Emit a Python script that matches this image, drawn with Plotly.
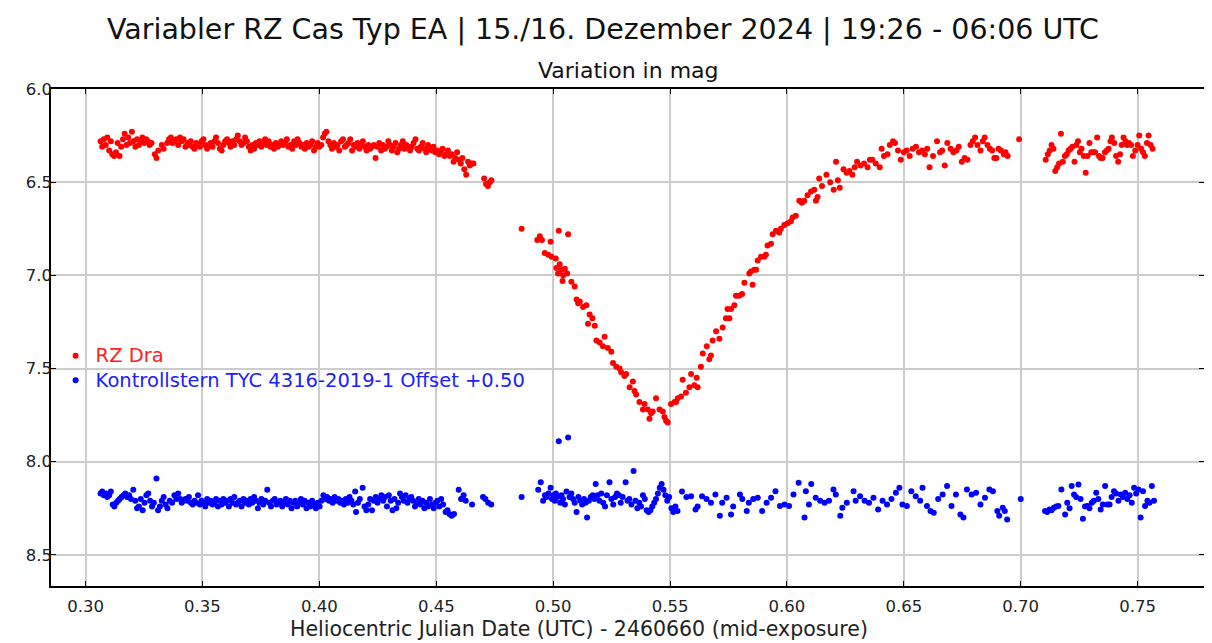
import plotly.graph_objects as go

# ---------------- data ----------------
red_t = [
    0.3064, 0.3071, 0.3078, 0.3086, 0.3093, 0.3101, 0.3108, 0.3114, 0.3122, 0.3130,
    0.3137, 0.3145, 0.3152, 0.3160, 0.3167, 0.3175, 0.3182, 0.3190, 0.3198, 0.3205,
    0.3213, 0.3220, 0.3228, 0.3236, 0.3243, 0.3251, 0.3259, 0.3266, 0.3274, 0.3282,
    0.3296, 0.3303, 0.3311, 0.3326, 0.3334, 0.3349, 0.3357, 0.3365, 0.3372, 0.3380,
    0.3388, 0.3396, 0.3404, 0.3411, 0.3419, 0.3427, 0.3435, 0.3442, 0.3450, 0.3458,
    0.3466, 0.3473, 0.3481, 0.3489, 0.3496, 0.3504, 0.3512, 0.3520, 0.3527, 0.3535,
    0.3543, 0.3551, 0.3558, 0.3566, 0.3574, 0.3582, 0.3589, 0.3597, 0.3605, 0.3613,
    0.3620, 0.3628, 0.3636, 0.3644, 0.3651, 0.3659, 0.3667, 0.3675, 0.3682, 0.3690,
    0.3698, 0.3706, 0.3713, 0.3721, 0.3729, 0.3737, 0.3744, 0.3752, 0.3760, 0.3768,
    0.3775, 0.3783, 0.3791, 0.3799, 0.3806, 0.3814, 0.3822, 0.3830, 0.3837, 0.3845,
    0.3853, 0.3861, 0.3868, 0.3876, 0.3884, 0.3892, 0.3899, 0.3907, 0.3915, 0.3923,
    0.3930, 0.3938, 0.3946, 0.3954, 0.3961, 0.3969, 0.3977, 0.3985, 0.3992, 0.4000,
    0.4008, 0.4016, 0.4023, 0.4030, 0.4039, 0.4047, 0.4054, 0.4062, 0.4070, 0.4078,
    0.4085, 0.4093, 0.4101, 0.4109, 0.4116, 0.4124, 0.4132, 0.4140, 0.4147, 0.4155,
    0.4163, 0.4171, 0.4178, 0.4186, 0.4194, 0.4202, 0.4209, 0.4217, 0.4225, 0.4233,
    0.4240, 0.4248, 0.4256, 0.4264, 0.4271, 0.4279, 0.4287, 0.4295, 0.4302, 0.4310,
    0.4318, 0.4326, 0.4333, 0.4341, 0.4349, 0.4357, 0.4364, 0.4372, 0.4380, 0.4388,
    0.4395, 0.4403, 0.4411, 0.4419, 0.4426, 0.4434, 0.4442, 0.4450, 0.4457, 0.4465,
    0.4473, 0.4481, 0.4488, 0.4496, 0.4504, 0.4512, 0.4519, 0.4527, 0.4535, 0.4543,
    0.4550, 0.4558, 0.4566, 0.4574, 0.4581, 0.4589, 0.4597, 0.4605, 0.4612, 0.4620,
    0.4628, 0.4636, 0.4643, 0.4651, 0.4659, 0.4705, 0.4713, 0.4721, 0.4729, 0.4736,
    # descent
    0.4865, 0.4932, 0.4943, 0.4952, 0.4964, 0.4979, 0.4989, 0.4993, 0.5011, 0.5014,
    0.5021, 0.5024, 0.5028, 0.5036, 0.5040, 0.5043, 0.5050, 0.5060, 0.5064, 0.5078,
    0.5092, 0.5100, 0.5107, 0.5114, 0.5128, 0.5142, 0.5149, 0.5156, 0.5168, 0.5178,
    0.5185, 0.5199, 0.5213, 0.5220, 0.5234, 0.5249, 0.5256, 0.5270, 0.5284, 0.5291,
    0.5305, 0.5312, 0.5327, 0.5341, 0.5348, 0.5355, 0.5369, 0.5384, 0.5391, 0.5405,
    0.5412, 0.5419, 0.5426, 0.5440, 0.5455, 0.5469, 0.5476, 0.5483, 0.5490,
    # ascent
    0.5504, 0.5519, 0.5526, 0.5533, 0.5547, 0.5554, 0.5568, 0.5583, 0.5590, 0.5604,
    0.5614, 0.5618, 0.5632, 0.5640, 0.5657, 0.5668, 0.5675, 0.5682, 0.5697, 0.5711,
    0.5725, 0.5739, 0.5746, 0.5754, 0.5761, 0.5775, 0.5782, 0.5796, 0.5808, 0.5818,
    0.5839, 0.5846, 0.5853, 0.5860, 0.5868, 0.5875, 0.5889, 0.5903, 0.5910, 0.5917,
    0.5932, 0.5939, 0.5953, 0.5967, 0.5974, 0.5989, 0.6003, 0.6017, 0.6024, 0.6038,
    0.6053, 0.6064, 0.6074, 0.6088, 0.6103, 0.6117, 0.6124, 0.6131, 0.6138, 0.6150,
    0.6169, 0.6185, 0.6200, 0.6210, 0.6218, 0.6226, 0.6242, 0.6255, 0.6267, 0.6280,
    0.6290, 0.6300, 0.6315, 0.6330, 0.6345, 0.6355, 0.6365, 0.6380, 0.6397,
    # plateau
    0.6405, 0.6415, 0.6430, 0.6440, 0.6454, 0.6462, 0.6475, 0.6487, 0.6500, 0.6512,
    0.6525, 0.6538, 0.6552, 0.6565, 0.6578, 0.6590, 0.6600, 0.6610, 0.6625, 0.6642,
    0.6655, 0.6664, 0.6675, 0.6686, 0.6700, 0.6712, 0.6725, 0.6735, 0.6748, 0.6760,
    0.6772, 0.6785, 0.6795, 0.6805, 0.6815, 0.6828, 0.6838, 0.6846, 0.6858, 0.6868,
    0.6878, 0.6887, 0.6896, 0.6905, 0.6915, 0.6928, 0.6935, 0.6944, 0.6993,
    0.7107, 0.7116, 0.7124, 0.7132, 0.7140, 0.7148, 0.7156, 0.7164, 0.7172, 0.7180,
    0.7189, 0.7197, 0.7205, 0.7213, 0.7221, 0.7230, 0.7238, 0.7245, 0.7253, 0.7260,
    0.7270, 0.7278, 0.7286, 0.7294, 0.7302, 0.7310, 0.7318, 0.7327, 0.7335, 0.7342,
    0.7350, 0.7360, 0.7368, 0.7376, 0.7384, 0.7390, 0.7400, 0.7408, 0.7417, 0.7425,
    0.7432, 0.7440, 0.7448, 0.7455, 0.7463, 0.7472, 0.7480, 0.7490, 0.7500, 0.7507,
    0.7515, 0.7523, 0.7531, 0.7540, 0.7547, 0.7556, 0.7564,
]
red_mag = [
    6.28, 6.31, 6.27, 6.30, 6.26, 6.33, 6.28, 6.35, 6.36, 6.34,
    6.29, 6.36, 6.31, 6.27, 6.24, 6.30, 6.26, 6.29, 6.23, 6.28,
    6.31, 6.27, 6.30, 6.28, 6.26, 6.29, 6.27, 6.28, 6.30, 6.29,
    6.35, 6.37, 6.33, 6.30, 6.32, 6.29, 6.27, 6.26, 6.29, 6.28,
    6.27, 6.30, 6.26, 6.28, 6.27, 6.31, 6.29, 6.30, 6.28, 6.31,
    6.32, 6.29, 6.30, 6.31, 6.28, 6.27, 6.30, 6.32, 6.30, 6.29,
    6.31, 6.28, 6.26, 6.29, 6.32, 6.33, 6.30, 6.28, 6.27, 6.29,
    6.31, 6.28, 6.30, 6.27, 6.25, 6.28, 6.30, 6.29, 6.26, 6.28,
    6.31, 6.33, 6.30, 6.32, 6.29, 6.30, 6.28, 6.31, 6.29, 6.27,
    6.30, 6.28, 6.31, 6.30, 6.32, 6.29, 6.31, 6.30, 6.28, 6.30,
    6.29, 6.27, 6.31, 6.30, 6.32, 6.28, 6.30, 6.27, 6.29, 6.31,
    6.30, 6.32, 6.29, 6.31, 6.30, 6.28, 6.33, 6.31, 6.29, 6.31,
    6.30, 6.26, 6.24, 6.23, 6.28, 6.30, 6.32, 6.29, 6.31, 6.30,
    6.33, 6.28, 6.27, 6.31, 6.30, 6.29, 6.27, 6.33, 6.30, 6.31,
    6.29, 6.32, 6.30, 6.28, 6.31, 6.33, 6.30, 6.32, 6.31, 6.30,
    6.37, 6.31, 6.29, 6.33, 6.30, 6.32, 6.31, 6.28, 6.30, 6.33,
    6.31, 6.29, 6.34, 6.32, 6.30, 6.28, 6.32, 6.30, 6.31, 6.33,
    6.31, 6.29, 6.27, 6.32, 6.33, 6.31, 6.29, 6.32, 6.34, 6.30,
    6.32, 6.33, 6.31, 6.34, 6.33, 6.35, 6.34, 6.32, 6.36, 6.35,
    6.33, 6.36, 6.35, 6.39, 6.37, 6.34, 6.38, 6.40, 6.37, 6.43,
    6.46, 6.39, 6.41, 6.40, 6.40, 6.48, 6.51, 6.52, 6.50, 6.49,
    # descent
    6.75, 6.81, 6.79, 6.81, 6.88, 6.89, 6.82, 6.90, 6.91, 6.96,
    6.99, 6.76, 6.94, 6.97, 7.03, 7.00, 6.965, 6.99, 6.78, 7.035,
    7.06, 7.13, 7.15, 7.14, 7.17, 7.16, 7.26, 7.21, 7.23, 7.27,
    7.35, 7.36, 7.38, 7.33, 7.39, 7.41, 7.47, 7.49, 7.50, 7.52,
    7.54, 7.53, 7.60, 7.57, 7.62, 7.64, 7.68, 7.72, 7.69, 7.72,
    7.77, 7.74, 7.73, 7.66, 7.72, 7.73, 7.76, 7.78, 7.79,
    # ascent
    7.69, 7.68, 7.68, 7.66, 7.65, 7.56, 7.63, 7.60, 7.53, 7.59,
    7.55, 7.60, 7.49, 7.42, 7.38, 7.45, 7.43, 7.35, 7.30, 7.34,
    7.28, 7.23, 7.18, 7.23, 7.18, 7.16, 7.11, 7.11, 7.10, 7.04,
    6.99, 6.98, 7.05, 6.97, 6.97, 6.92, 6.90, 6.90, 6.89, 6.84,
    6.83, 6.78, 6.76, 6.77, 6.75, 6.73, 6.72, 6.71, 6.69, 6.68,
    6.60, 6.61, 6.60, 6.57, 6.55, 6.54, 6.60, 6.58, 6.48, 6.52,
    6.46, 6.50, 6.54, 6.39, 6.49, 6.53, 6.43, 6.45, 6.44, 6.46,
    6.42, 6.39, 6.41, 6.40, 6.42, 6.38, 6.38, 6.40, 6.42,
    # plateau
    6.32, 6.36, 6.35, 6.30, 6.28, 6.29, 6.33, 6.38, 6.34, 6.33,
    6.36, 6.32, 6.31, 6.34, 6.33, 6.35, 6.32, 6.42, 6.36, 6.28,
    6.34, 6.33, 6.41, 6.29, 6.32, 6.34, 6.33, 6.31, 6.39, 6.37,
    6.38, 6.30, 6.28, 6.26, 6.30, 6.33, 6.28, 6.26, 6.30, 6.32,
    6.33, 6.37, 6.37, 6.32, 6.33, 6.35, 6.34, 6.36, 6.27,
    6.38, 6.35, 6.33, 6.30, 6.32, 6.44, 6.42, 6.40, 6.24, 6.39,
    6.36, 6.35, 6.33, 6.32, 6.31, 6.39, 6.30, 6.28, 6.34, 6.32,
    6.36, 6.45, 6.36, 6.29, 6.34, 6.34, 6.34, 6.26, 6.36, 6.37,
    6.37, 6.34, 6.33, 6.32, 6.28, 6.26, 6.29, 6.36, 6.39, 6.35,
    6.30, 6.26, 6.28, 6.30, 6.29, 6.30, 6.36, 6.33, 6.30, 6.25,
    6.32, 6.34, 6.36, 6.29, 6.25, 6.30, 6.32,
]

blue_t = [
    0.3064, 0.3071, 0.3078, 0.3086, 0.3093, 0.3101, 0.3108, 0.3116, 0.3123, 0.3131,
    0.3139, 0.3146, 0.3154, 0.3162, 0.3170, 0.3178, 0.3186, 0.3194, 0.3204, 0.3212,
    0.3220, 0.3228, 0.3236, 0.3244, 0.3252, 0.3260, 0.3268, 0.3276, 0.3284, 0.3292,
    0.3303, 0.3310, 0.3318, 0.3326, 0.3334, 0.3342, 0.3350, 0.3360, 0.3370, 0.3380,
    0.3388, 0.3396, 0.3404, 0.3411, 0.3419, 0.3427, 0.3435, 0.3442, 0.3450, 0.3458,
    0.3466, 0.3473, 0.3481, 0.3489, 0.3496, 0.3504, 0.3512, 0.3520, 0.3527, 0.3535,
    0.3543, 0.3551, 0.3558, 0.3566, 0.3574, 0.3582, 0.3589, 0.3597, 0.3605, 0.3613,
    0.3620, 0.3628, 0.3636, 0.3644, 0.3651, 0.3659, 0.3667, 0.3675, 0.3682, 0.3690,
    0.3698, 0.3706, 0.3713, 0.3721, 0.3729, 0.3737, 0.3744, 0.3752, 0.3760, 0.3768,
    0.3777, 0.3785, 0.3793, 0.3801, 0.3809, 0.3817, 0.3825, 0.3833, 0.3841, 0.3849,
    0.3857, 0.3865, 0.3873, 0.3881, 0.3889, 0.3897, 0.3905, 0.3913, 0.3921, 0.3929,
    0.3937, 0.3945, 0.3953, 0.3961, 0.3969, 0.3977, 0.3985, 0.3993, 0.4001, 0.4009,
    0.4017, 0.4025, 0.4033, 0.4041, 0.4049, 0.4057, 0.4065, 0.4073, 0.4081, 0.4089,
    0.4097, 0.4105, 0.4113, 0.4121, 0.4129, 0.4137, 0.4145, 0.4153, 0.4157, 0.4165,
    0.4173, 0.4185, 0.4193, 0.4201, 0.4209, 0.4217, 0.4225, 0.4233, 0.4241, 0.4249,
    0.4257, 0.4265, 0.4273, 0.4281, 0.4289, 0.4297, 0.4305, 0.4313, 0.4321, 0.4329,
    0.4337, 0.4345, 0.4353, 0.4361, 0.4369, 0.4377, 0.4385, 0.4393, 0.4401, 0.4409,
    0.4417, 0.4425, 0.4433, 0.4441, 0.4449, 0.4457, 0.4465, 0.4473, 0.4481, 0.4489,
    0.4497, 0.4505, 0.4513, 0.4521, 0.4529, 0.4540, 0.4548, 0.4556, 0.4566, 0.4576,
    0.4596, 0.4606, 0.4617, 0.4626, 0.4653, 0.4700, 0.4710, 0.4722, 0.4735,
    # eclipse part
    0.4865, 0.4936, 0.4947, 0.4957, 0.4965, 0.4972, 0.4980, 0.4989, 0.4995, 0.5001,
    0.5007, 0.5012, 0.5018, 0.5024, 0.5030, 0.5036, 0.5042, 0.5050, 0.5057, 0.5064,
    0.5070, 0.5078, 0.5085, 0.5092, 0.5100, 0.5108, 0.5116, 0.5124, 0.5132, 0.5139,
    0.5145, 0.5153, 0.5161, 0.5169, 0.5176, 0.5182, 0.5190, 0.5198, 0.5206, 0.5214,
    0.5222, 0.5230, 0.5241, 0.5249, 0.5257, 0.5265, 0.5273, 0.5281, 0.5289, 0.5297,
    0.5310, 0.5318, 0.5326, 0.5335, 0.5344, 0.5352, 0.5360, 0.5368, 0.5376, 0.5384,
    0.5392, 0.5400, 0.5408, 0.5416, 0.5424, 0.5432, 0.5440, 0.5448, 0.5456, 0.5464,
    0.5472, 0.5480, 0.5488, 0.5496, 0.5506, 0.5514, 0.5523, 0.5532, 0.5551, 0.5570,
    0.5590, 0.5609, 0.5618, 0.5637, 0.5656, 0.5675, 0.5694, 0.5713, 0.5723, 0.5742,
    0.5761, 0.5770, 0.5799, 0.5809, 0.5828, 0.5837, 0.5856, 0.5875, 0.5894, 0.5913,
    0.5932, 0.5951, 0.5970, 0.5990, 0.6009, 0.6028, 0.6050, 0.6075, 0.6081, 0.6094,
    0.6104, 0.6123, 0.6142, 0.6161, 0.6180, 0.6199, 0.6209, 0.6228, 0.6237, 0.6256,
    0.6285, 0.6294, 0.6313, 0.6332, 0.6351, 0.6370, 0.6390, 0.6409, 0.6428, 0.6447,
    0.6466, 0.6481, 0.6494, 0.6513, 0.6532, 0.6551, 0.6570, 0.6580, 0.6599, 0.6614,
    0.6628, 0.6647, 0.6666, 0.6685, 0.6704, 0.6723, 0.6742, 0.6755, 0.6770, 0.6790,
    0.6809, 0.6828, 0.6847, 0.6866, 0.6881, 0.6900, 0.6908, 0.6923, 0.6932, 0.6942,
    0.7000,
    0.7104, 0.7113, 0.7123, 0.7132, 0.7142, 0.7152, 0.7161, 0.7174, 0.7190, 0.7199,
    0.7209, 0.7218, 0.7228, 0.7237, 0.7247, 0.7256, 0.7266, 0.7275, 0.7285, 0.7294,
    0.7304, 0.7313, 0.7323, 0.7332, 0.7342, 0.7351, 0.7361, 0.7370, 0.7380, 0.7389,
    0.7399, 0.7408, 0.7418, 0.7428, 0.7437, 0.7447, 0.7456, 0.7466, 0.7475, 0.7485,
    0.7494, 0.7504, 0.7513, 0.7523, 0.7532, 0.7542, 0.7551, 0.7561, 0.7570,
]
blue_mag = [
    8.17, 8.16, 8.18, 8.17, 8.19, 8.18, 8.16, 8.23, 8.24, 8.22,
    8.21, 8.20, 8.19, 8.18, 8.17, 8.19, 8.18, 8.20, 8.15, 8.21,
    8.25, 8.24, 8.20, 8.26, 8.22, 8.18, 8.17, 8.21, 8.24, 8.22,
    8.09, 8.26, 8.24, 8.21, 8.19, 8.23, 8.25, 8.21, 8.22, 8.18,
    8.20, 8.17, 8.20, 8.22, 8.21, 8.20, 8.21, 8.19, 8.22, 8.23,
    8.21, 8.22, 8.18, 8.23, 8.21, 8.22, 8.24, 8.20, 8.22, 8.21,
    8.23, 8.22, 8.20, 8.24, 8.21, 8.23, 8.20, 8.22, 8.21, 8.24,
    8.20, 8.22, 8.19, 8.23, 8.22, 8.21, 8.24, 8.20, 8.22, 8.21,
    8.23, 8.20, 8.22, 8.19, 8.21, 8.25, 8.22, 8.20, 8.23, 8.21,
    8.15, 8.22, 8.24, 8.21, 8.20, 8.23, 8.22, 8.21, 8.24, 8.22,
    8.20, 8.23, 8.21, 8.25, 8.22, 8.21, 8.24, 8.22, 8.20, 8.23,
    8.21, 8.25, 8.22, 8.24, 8.21, 8.23, 8.25, 8.22, 8.24, 8.21,
    8.18, 8.20, 8.19, 8.21, 8.20, 8.22, 8.19, 8.21, 8.20, 8.22,
    8.21, 8.23, 8.20, 8.22, 8.19, 8.21, 8.23, 8.16, 8.27, 8.22,
    8.20, 8.14, 8.24, 8.26, 8.23, 8.20, 8.26, 8.21, 8.19, 8.22,
    8.20, 8.18, 8.21, 8.19, 8.24, 8.18, 8.21, 8.26, 8.20, 8.25,
    8.22, 8.17, 8.19, 8.21, 8.18, 8.22, 8.20, 8.19, 8.21, 8.24,
    8.22, 8.20, 8.23, 8.21, 8.25, 8.22, 8.24, 8.20, 8.23, 8.25,
    8.22, 8.21, 8.24, 8.20, 8.23, 8.27, 8.26, 8.28, 8.29, 8.28,
    8.15, 8.20, 8.18, 8.21, 8.23, 8.19, 8.20, 8.22, 8.23,
    # eclipse part
    8.19, 8.15, 8.11, 8.21, 8.18, 8.19, 8.17, 8.14, 8.20, 8.18,
    8.21, 8.17, 8.19, 7.89, 8.22, 8.18, 8.20, 8.23, 8.16, 7.87,
    8.19, 8.17, 8.20, 8.22, 8.27, 8.19, 8.21, 8.23, 8.20, 8.22,
    8.30, 8.21, 8.19, 8.18, 8.20, 8.12, 8.18, 8.21, 8.17, 8.22,
    8.24, 8.18, 8.11, 8.20, 8.23, 8.19, 8.17, 8.18, 8.22, 8.19,
    8.11, 8.21, 8.20, 8.23, 8.05, 8.21, 8.25, 8.22, 8.24, 8.18,
    8.20, 8.26, 8.27, 8.26, 8.24, 8.22, 8.20, 8.17, 8.14, 8.12,
    8.15, 8.18, 8.21, 8.19, 8.25, 8.27, 8.24, 8.265, 8.16, 8.19,
    8.185, 8.256, 8.24, 8.185, 8.20, 8.22, 8.176, 8.29, 8.22, 8.194,
    8.283, 8.24, 8.176, 8.20, 8.265, 8.22, 8.20, 8.194, 8.265, 8.22,
    8.194, 8.158, 8.238, 8.23, 8.238, 8.176, 8.113, 8.30, 8.158, 8.23,
    8.12, 8.194, 8.21, 8.22, 8.21, 8.149, 8.176, 8.29, 8.247, 8.22,
    8.158, 8.21, 8.185, 8.21, 8.22, 8.194, 8.256, 8.21, 8.23, 8.20,
    8.167, 8.14, 8.23, 8.238, 8.158, 8.185, 8.21, 8.14, 8.238, 8.265,
    8.274, 8.20, 8.176, 8.131, 8.238, 8.176, 8.283, 8.30, 8.149, 8.176,
    8.167, 8.23, 8.194, 8.149, 8.158, 8.265, 8.29, 8.247, 8.265, 8.31,
    8.20,
    8.265, 8.27, 8.256, 8.26, 8.247, 8.24, 8.238, 8.149, 8.283, 8.22,
    8.25, 8.131, 8.176, 8.19, 8.122, 8.20, 8.306, 8.24, 8.238, 8.25,
    8.22, 8.21, 8.167, 8.20, 8.256, 8.23, 8.131, 8.23, 8.23, 8.19,
    8.158, 8.17, 8.21, 8.176, 8.19, 8.167, 8.20, 8.18, 8.22, 8.14,
    8.17, 8.149, 8.30, 8.158, 8.238, 8.21, 8.22, 8.131, 8.21,
]

red_name = "RZ Dra"
blue_name = "Kontrollstern TYC 4316-2019-1 Offset +0.50"
title_text = "Variabler RZ Cas Typ EA | 15./16. Dezember 2024 | 19:26 - 06:06 UTC"
subtitle_text = "Variation in mag"
x_title = "Heliocentric Julian Date (UTC) - 2460660 (mid-exposure)"
x_ticks = [0.30, 0.35, 0.40, 0.45, 0.50, 0.55, 0.60, 0.65, 0.70, 0.75]
y_ticks = [6.0, 6.5, 7.0, 7.5, 8.0, 8.5]

FONT = "DejaVu Sans, sans-serif"
OFF = 7                      # page offset of the figure in the browser
W, H = 1212 - OFF, 643 - OFF
L, T = 50 - OFF, 88 - OFF
R = W - (1203 - OFF)
B = H - (585 - OFF)
PLOT_H = H - T - B
PLOT_W = W - L - R

fig = go.Figure()
fig.add_trace(go.Scatter(
    x=red_t, y=red_mag, mode="markers",
    name="<span style='color:#ff2020;font-size:19.5px'>" + red_name + "</span>",
    marker=dict(color="#ff0000", size=6, line=dict(width=0)),
))
fig.add_trace(go.Scatter(
    x=blue_t, y=blue_mag, mode="markers",
    name="<span style='color:#2020ff;font-size:19.5px'>" + blue_name + "</span>",
    marker=dict(color="#0000ff", size=6, line=dict(width=0)),
))

axis_common = dict(
    showgrid=True, gridcolor="#cccccc", gridwidth=1.5,
    showline=True, linecolor="black", linewidth=1.5, mirror="ticks",
    ticks="inside", ticklen=5, tickcolor="black", tickwidth=1.2,
    zeroline=False, automargin=False,
    tickfont=dict(family=FONT, size=16.5, color="#222222"),
)

fig.update_layout(
    width=W, height=H,
    margin=dict(l=L, r=R, t=T, b=B, autoexpand=False),
    paper_bgcolor="white", plot_bgcolor="white",
    showlegend=True,
    legend=dict(
        x=0.004, y=(585 - 367) / PLOT_H, xanchor="left", yanchor="middle",
        bgcolor="rgba(0,0,0,0)", font=dict(family=FONT, size=16.5),
        itemsizing="trace",
    ),
    annotations=[
        dict(text=title_text, xref="paper", yref="paper",
             x=(602 - 50) / PLOT_W, y=1 + (88 - 28) / PLOT_H,
             xanchor="center", yanchor="middle",
             showarrow=False, font=dict(family=FONT, size=28.5, color="#111111")),
        dict(text=subtitle_text, xref="paper", yref="paper",
             x=(627 - 50) / PLOT_W, y=1 + (88 - 70) / PLOT_H,
             xanchor="center", yanchor="middle",
             showarrow=False, font=dict(family=FONT, size=22, color="#111111")),
        dict(text=x_title, xref="paper", yref="paper",
             x=(578 - 50) / PLOT_W, y=-(642 - 585) / PLOT_H,
             xanchor="center", yanchor="bottom",
             showarrow=False, font=dict(family=FONT, size=20.5, color="#222222")),
    ],
)

fig.update_xaxes(
    range=[0.2852, 0.7784], tickvals=x_ticks,
    ticktext=["%.2f" % v for v in x_ticks],
    ticklabelstandoff=4,
    **axis_common,
)
fig.update_yaxes(
    range=[8.667, 6.0], tickvals=y_ticks,
    ticktext=["%.1f" % v for v in y_ticks],
    ticklabelstandoff=-6,
    **axis_common,
)

fig.write_html("out.html")
